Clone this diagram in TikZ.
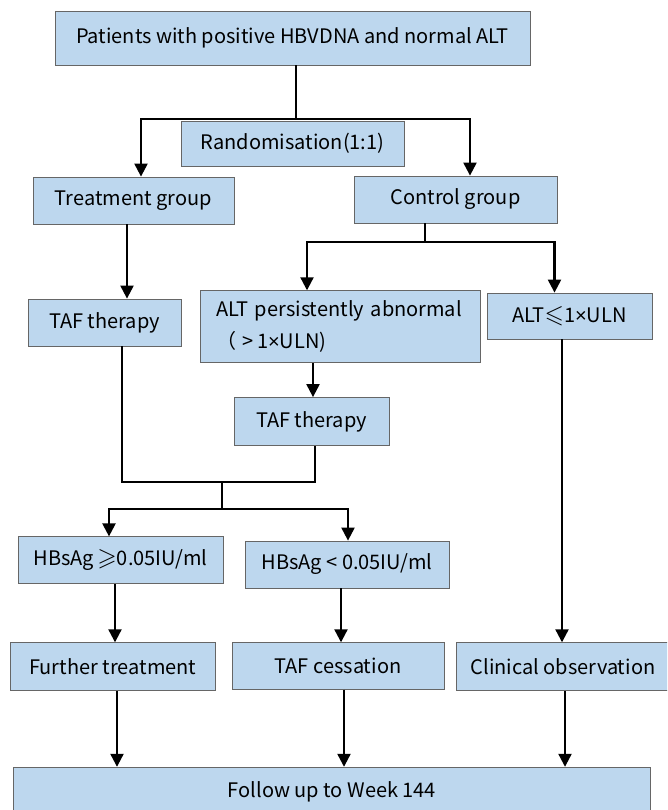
\documentclass[tikz,border=0pt]{standalone}
\usepackage{amssymb}
\usepackage{graphicx}
\usepackage{fontspec}
\setmainfont{Noto Sans CJK SC}
\newfontfamily\xfont{Liberation Sans}
\newcommand{\tm}{{\xfont ×}}
\usetikzlibrary{arrows.meta}
\definecolor{boxblue}{RGB}{189,215,238}
\begin{document}
\begin{tikzpicture}[x=1pt,y=-1pt,
  box/.style={draw=black!60, line width=0.8pt, fill=boxblue, inner sep=0pt,
    font=\fontsize{20}{24}\selectfont},
  ln/.style={line width=2.2pt},
  arr/.style={ln,-{Triangle[width=13pt,length=13pt]}}]
\clip (0,0) rectangle (667,810);
\fill[white] (0,0) rectangle (667,810);
% nodes
\node[box, minimum width=475pt, minimum height=54pt] (top) at (292.5,38) {Patients with positive HBVDNA and normal ALT};
\node[box, minimum width=223pt, minimum height=45pt] (rand) at (292.5,143.5) {Randomisation(1:1)};
\node[box, minimum width=201pt, minimum height=47pt] (treat) at (133.5,200.5) {Treatment group};
\node[box, minimum width=203pt, minimum height=47pt] (ctrl) at (455.5,199.5) {Control group};
\node[box, minimum width=153pt, minimum height=47pt] (taf1) at (104.5,322.5) {TAF therapy};
\node[box, minimum width=280pt, minimum height=72pt, align=left, text width=248pt,
  font=\fontsize{20}{32}\selectfont] (altab) at (340,326.7) {ALT persistently abnormal\\ （ >\,1\tm ULN)};
\node[box, minimum width=165pt, minimum height=46pt] (altle) at (569.5,316) {ALT\scalebox{1.25}{$\leqslant$}1\tm ULN};
\node[box, minimum width=155pt, minimum height=48pt] (taf2) at (311.5,421.5) {TAF therapy};
\node[box, minimum width=205pt, minimum height=47pt] (hbge) at (120.5,560.3) {HBsAg\,\scalebox{1.25}{$\geqslant$}0.05IU/ml};
\node[box, minimum width=204pt, minimum height=47pt] (hblt) at (347,564.5) {HBsAg < 0.05IU/ml};
\node[box, minimum width=205.5pt, minimum height=48pt] (further) at (112.75,666.7) {Further treatment};
\node[box, minimum width=212pt, minimum height=46.6pt] (cess) at (338,666) {TAF cessation};
\node[box, minimum width=214pt, minimum height=48pt] (clin) at (563,666.7) {Clinical observation};
\node[box, minimum width=637pt, minimum height=49pt] (follow) at (332,791.7) {Follow up to Week 144};
% connector coordinates
\coordinate (s1) at (296,119);
\coordinate (xl) at (141,0);
\coordinate (xr) at (470,0);
\coordinate (x127) at (127,0);
\coordinate (s2) at (425,241.6);
\coordinate (x307) at (307,0);
\coordinate (x554) at (554.5,0);
\coordinate (x313) at (313,0);
\coordinate (x122) at (122,0);
\coordinate (x315) at (315,0);
\coordinate (j1) at (122,482);
\coordinate (j2) at (222,482);
\coordinate (s3) at (222,509);
\coordinate (x109) at (109,0);
\coordinate (x348) at (348,0);
\coordinate (x115) at (115,0);
\coordinate (x341) at (341,0);
\coordinate (x562) at (562,0);
\coordinate (x117) at (117,0);
\coordinate (x344) at (344,0);
\coordinate (x565) at (565,0);
% connectors
\draw[ln] (top.south -| s1) -- (s1);
\draw[arr] (s1) -| (xl |- treat.north);
\draw[arr] (s1) -| (xr |- ctrl.north);
\draw[arr] (x127 |- treat.south) -- (x127 |- taf1.north);
\draw[ln] (ctrl.south -| s2) -- (s2);
\draw[arr] (s2) -| (x307 |- altab.north);
\draw[arr] (s2) -| (x554 |- altle.north);
\draw[arr] (x313 |- altab.south) -- (x313 |- taf2.north);
\draw[ln] (x122 |- taf1.south) -- (j1) -| (x315 |- taf2.south);
\draw[ln] (j2) -- (s3);
\draw[arr] (s3) -| (x109 |- hbge.north);
\draw[arr] (s3) -| (x348 |- hblt.north);
\draw[arr] (x115 |- hbge.south) -- (x115 |- further.north);
\draw[arr] (x341 |- hblt.south) -- (x341 |- cess.north);
\draw[arr] (x562 |- altle.south) -- (x562 |- clin.north);
\draw[arr] (x117 |- further.south) -- (x117 |- follow.north);
\draw[arr] (x344 |- cess.south) -- (x344 |- follow.north);
\draw[arr] (x565 |- clin.south) -- (x565 |- follow.north);
\end{tikzpicture}
\end{document}
